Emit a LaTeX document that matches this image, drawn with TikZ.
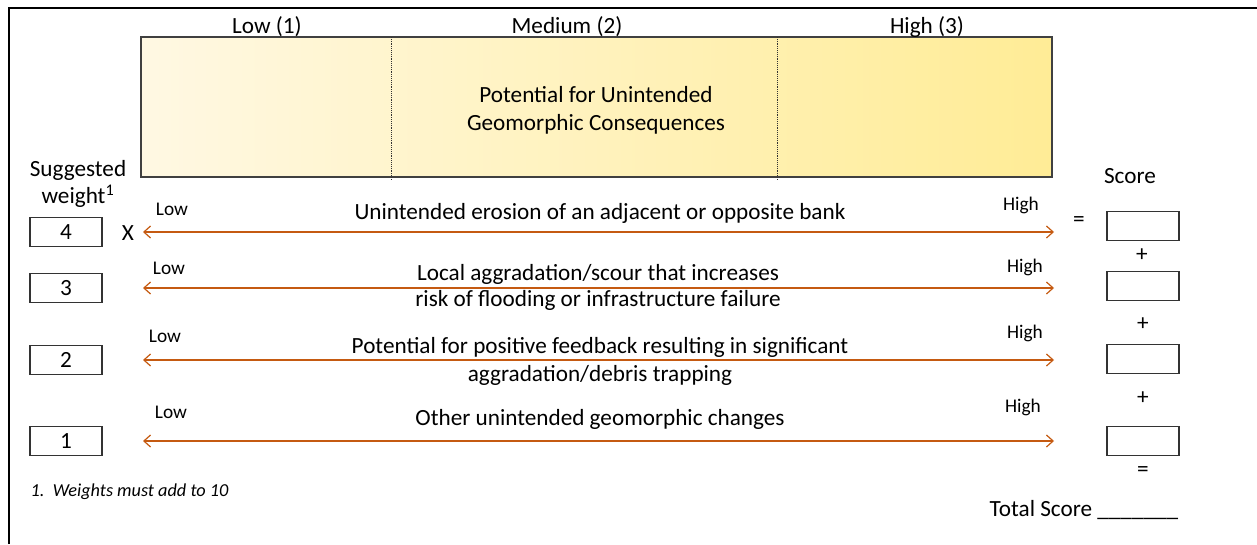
\documentclass[tikz,border=0pt]{standalone}
\usepackage{fontspec}
\setmainfont{Carlito}
\usetikzlibrary{positioning,
                arrows.meta                 % arrow tips
                }
\definecolor{rust}{RGB}{197,90,17}
\definecolor{cream}{RGB}{255,248,227}
\definecolor{butter}{RGB}{255,236,150}

\begin{document}
\begin{tikzpicture}[x=0.75pt,y=-0.75pt,
    font=\fontsize{17.4}{19.5}\selectfont,
    endlabel/.style={font=\fontsize{14.5}{16}\selectfont},
    wbox/.style={draw=black!80, line width=0.8pt, minimum width=54pt,
                 minimum height=21.5pt, inner sep=0pt},
    scalearrow/.style={rust, line width=0.9pt,
                 {Straight Barb[length=5pt,width=9pt]}-{Straight Barb[length=5pt,width=9pt]}}]
        \useasboundingbox (0,0) rectangle (1257,544);
        % frame
        \draw[line width=1.6pt] (9,544) -- (9,8) -- (1257,8);

        % consequence band
        \shade[left color=cream, right color=butter] (141,37) rectangle (1052,177);
        \draw[black!75, line width=0.8pt] (141,37) rectangle (1052,177);
        \draw[densely dotted, black!80] (391,37) -- (391,179);
        \draw[densely dotted, black!80] (777,37) -- (777,179);
        \node (low) at (267,27) {Low (1)};
        \node (med) at (567,27) {Medium (2)};
        \node (high) at (927,27) {High (3)};
        \node[align=center, font=\fontsize{17.4}{21}\selectfont] (band) at (596,110) {Potential for Unintended\\Geomorphic Consequences};

        % weights
        \node[align=center, font=\fontsize{17.4}{20}\selectfont] (sugg) at (78,184) {Suggested\\weight\textsuperscript{1}};
        \node[wbox] (w4) at (66,232) {4};
        \node[wbox] (w3) at (66,288) {3};
        \node[wbox] (w2) at (66,360) {2};
        \node[wbox] (w1) at (66,441) {1};
        \node (times) at (128,233) {X};

        % scales
        \foreach \y/\n in {232/a, 288/b, 360/c, 441/d}
        {
            \coordinate (lo\n) at (143,\y);
            \coordinate (hi\n) at (1054,\y);
            \draw[scalearrow] (lo\n) -- (hi\n);
        }
        \node[endlabel] (la) at (172,209) {Low};
        \node[endlabel] (lb) at (169,268) {Low};
        \node[endlabel] (lc) at (165,336) {Low};
        \node[endlabel] (ld) at (171,412) {Low};
        \node[endlabel] (ha) at (1021,205) {High};
        \node[endlabel] (hb) at (1025,267) {High};
        \node[endlabel] (hc) at (1025,333) {High};
        \node[endlabel] (hd) at (1023,407) {High};

        \node (ta) at (600,213) {Unintended erosion of an adjacent or opposite bank};
        \node[align=center] (tb) at (598,287) {Local aggradation/scour that increases\\risk of flooding or infrastructure failure};
        \node[align=center, font=\fontsize{17.4}{21}\selectfont] (tc) at (600,361) {Potential for positive feedback resulting in significant\\aggradation/debris trapping};
        \node (td) at (600,419) {Other unintended geomorphic changes};

        % scores
        \node (eq) at (1079,222) {=};
        \node (score) at (1130,176) {Score};
        \node[wbox] (s4) at (1143,226) {};
        \node[wbox] (s3) at (1143,286) {};
        \node[wbox] (s2) at (1143,359) {};
        \node[wbox] (s1) at (1143,441) {};
        \node (p1) at (1142,255) {+};
        \node (p2) at (1143,324) {+};
        \node (p3) at (1143,398) {+};
        \node (eq2) at (1143,472) {=};
        \node[anchor=east] (total) at (1183,510) {Total Score \_\_\_\_\_\_\_};

        \node[anchor=west, font=\fontsize{13.7}{15}\selectfont\itshape] (note) at (26,492) {1.\ \ Weights must add to 10};
\end{tikzpicture}
\end{document}
